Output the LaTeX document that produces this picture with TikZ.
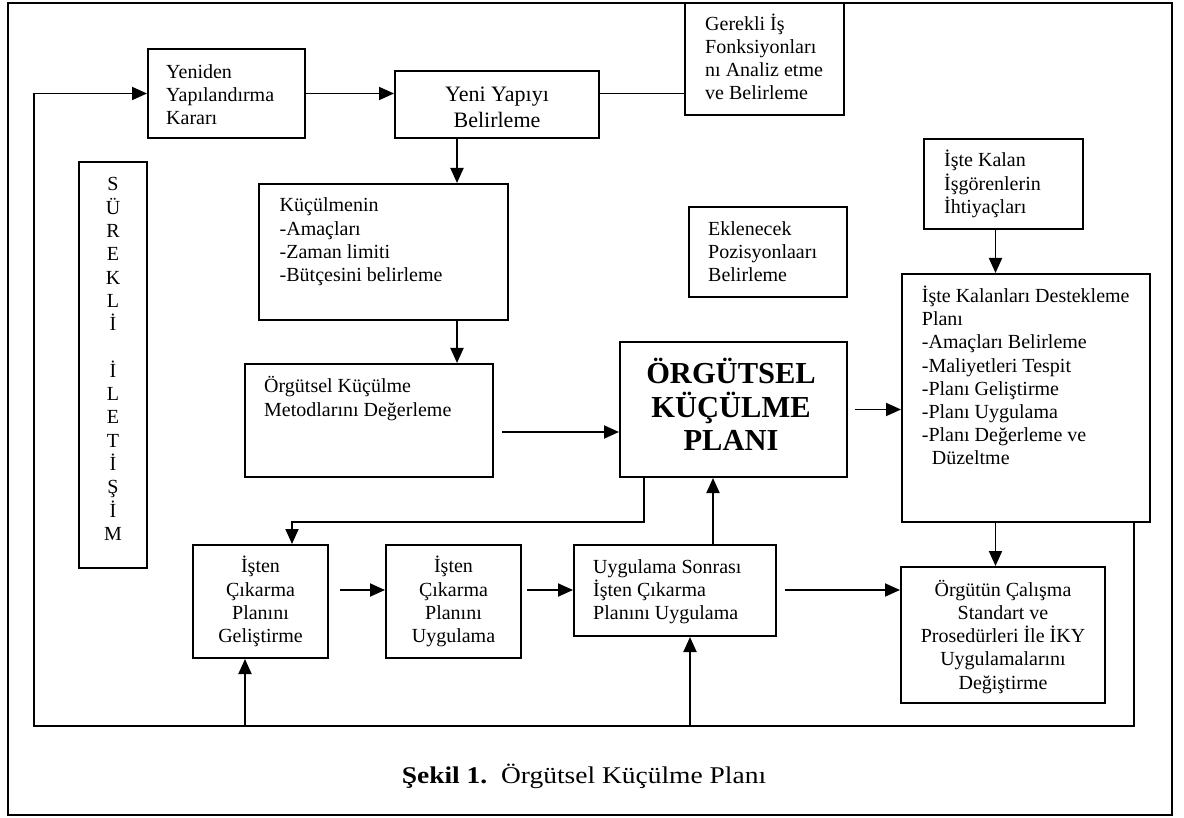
\documentclass[tikz,border=0pt]{standalone}
\usepackage{fontspec}
\setmainfont{Liberation Serif}
\usetikzlibrary{arrows.meta,fit,calc}
\newcommand\firstln{\rule{0pt}{20pt}}
\newcommand\firstbig{\rule{0pt}{30pt}}
\begin{document}
\begin{tikzpicture}[x=1pt,y=-1pt,
  box/.style={draw, line width=2pt, inner sep=0pt},
  conn/.style={line width=1.9pt},
  arr/.style={-{Triangle[length=15pt,width=13pt]}},
  txt/.style={inner sep=0pt, align=left, anchor=north west, font=\fontsize{20}{23.2}\selectfont},
  ctxt/.style={txt, align=center, anchor=north},
]
\useasboundingbox (0,0) rectangle (1184,818);
\draw[line width=1.8pt] (8,3) rectangle (1172,815);

% boxes
\node[box, fit={(148,49) (305,138)}] (yen) {};
\node[box, fit={(395,71) (599,138)}] (yeni) {};
\node[box, fit={(685,3) (844,115)}] (ger) {};
\node[box, fit={(79,162) (147,568)}] (sur) {};
\node[box, fit={(259,184) (508,320)}] (kuc) {};
\node[box, fit={(245,364) (493,477)}] (metod) {};
\node[box, fit={(689,207) (847,297)}] (ekl) {};
\node[box, fit={(924,139) (1083,229)}] (ikalan) {};
\node[box, fit={(620,342) (847,477)}] (plan) {};
\node[box, fit={(902,274) (1150,522)}] (destek) {};
\node[box, fit={(193,545) (328,658)}] (isten1) {};
\node[box, fit={(386,545) (521,658)}] (isten2) {};
\node[box, fit={(574,545) (776,636)}] (sonra) {};
\node[box, fit={(901,567) (1105,703)}] (orgutun) {};

% texts
\node[txt] (yen-t) at (166,58.3) {\firstln Yeniden\\Yapılandırma\\Kararı};
\node[ctxt, font=\fontsize{22}{26}\selectfont] (yeni-t) at (497,81.7) {\firstln Yeni Yapıyı\\Belirleme};
\node[txt] (ger-t) at (705,10) {\firstln Gerekli İş\\Fonksiyonları\\nı Analiz etme\\ve Belirleme};
\node[txt] (ekl-t) at (708,215) {\firstln Eklenecek\\Pozisyonlaarı\\Belirleme};
\node[txt] (ikalan-t) at (944,146.7) {\firstln İşte Kalan\\İşgörenlerin\\İhtiyaçları};
\node[txt] (kuc-t) at (279.5,191.7) {\firstln Küçülmenin\\-Amaçları\\-Zaman limiti\\-Bütçesini belirleme};
\node[txt] (metod-t) at (264,372.7) {\firstln Örgütsel Küçülme\\Metodlarını Değerleme};
\node[txt] (destek-t) at (921.7,282.3) {\firstln İşte Kalanları Destekleme\\Planı\\-Amaçları Belirleme\\-Maliyetleri Tespit\\-Planı Geliştirme\\-Planı Uygulama\\-Planı Değerleme ve\\\hspace*{10pt}Düzeltme};
\node[ctxt, font=\fontsize{30.5}{33.5}\selectfont\bfseries] (plan-t) at (731,353.3) {\firstbig ÖRGÜTSEL\\KÜÇÜLME\\PLANI};
\node[txt] (sonra-t) at (593,553.3) {\firstln Uygulama Sonrası\\İşten Çıkarma\\Planını Uygulama};
\node[ctxt] (isten1-t) at (260.5,552.7) {\firstln İşten\\Çıkarma\\Planını\\Geliştirme};
\node[ctxt] (isten2-t) at (453.5,552.7) {\firstln İşten\\Çıkarma\\Planını\\Uygulama};
\node[ctxt] (orgutun-t) at (1003,576) {\firstln Örgütün Çalışma\\Standart ve\\Prosedürleri İle İKY\\Uygulamalarını\\Değiştirme};
\node[ctxt, font=\fontsize{20}{23.3}\selectfont] (sur-t) at (113,170.7) {\firstln S\\Ü\\R\\E\\K\\L\\İ\\\mbox{}\\İ\\L\\E\\T\\İ\\Ş\\İ\\M};
\node[anchor=base, inner sep=0pt, font=\fontsize{24}{28}\selectfont] (cap) at (584,783)
  {\scalebox{1.145}[1]{\textbf{Şekil 1.}\hspace{0.5em}Örgütsel Küçülme Planı}};

% connectors
\coordinate (lb) at (34,726);
\coordinate (rb) at (1134,726);
\draw[conn,arr] (destek.south -| rb) -- (rb) -- (lb) |- (yen.west);
\draw[conn,arr] (yen.east) -- (yen.east -| yeni.west);
\draw[conn] (yen.east -| yeni.east) -- (yen.east -| ger.west);
\coordinate (vx) at (457,0);
\draw[conn,arr] (vx |- yeni.south) -- (vx |- kuc.north);
\draw[conn,arr] (vx |- kuc.south) -- (vx |- metod.north);
\coordinate (m1) at (502,432);
\draw[conn,arr] (m1) -- (m1 -| plan.west);
\draw[conn,arr] ($(plan.east)+(7,0)$) -- (plan.east -| destek.west);
\coordinate (dx) at (995.5,0);
\draw[conn,arr] (dx |- ikalan.south) -- (dx |- destek.north);
\draw[conn,arr] (dx |- destek.south) -- (dx |- orgutun.north);
\coordinate (p1) at (644,522);
\coordinate (p2) at (292,522);
\draw[conn,arr] (p1 |- plan.south) -- (p1) -- (p2) -- (p2 |- isten1.north);
\coordinate (s1) at (713,0);
\draw[conn,arr] (s1 |- sonra.north) -- (s1 |- plan.south);
\coordinate (h1) at (0,590);
\draw[conn,arr] ($(isten1.east |- h1)+(11,0)$) -- (isten2.west |- h1);
\draw[conn,arr] ($(isten2.east |- h1)+(5,0)$) -- (sonra.west |- h1);
\draw[conn,arr] ($(sonra.east |- h1)+(8,0)$) -- (orgutun.west |- h1);
\coordinate (u1) at (245,726);
\draw[conn,arr] (u1) -- (u1 |- isten1.south);
\coordinate (u2) at (690,726);
\draw[conn,arr] (u2) -- (u2 |- sonra.south);
\end{tikzpicture}
\end{document}
